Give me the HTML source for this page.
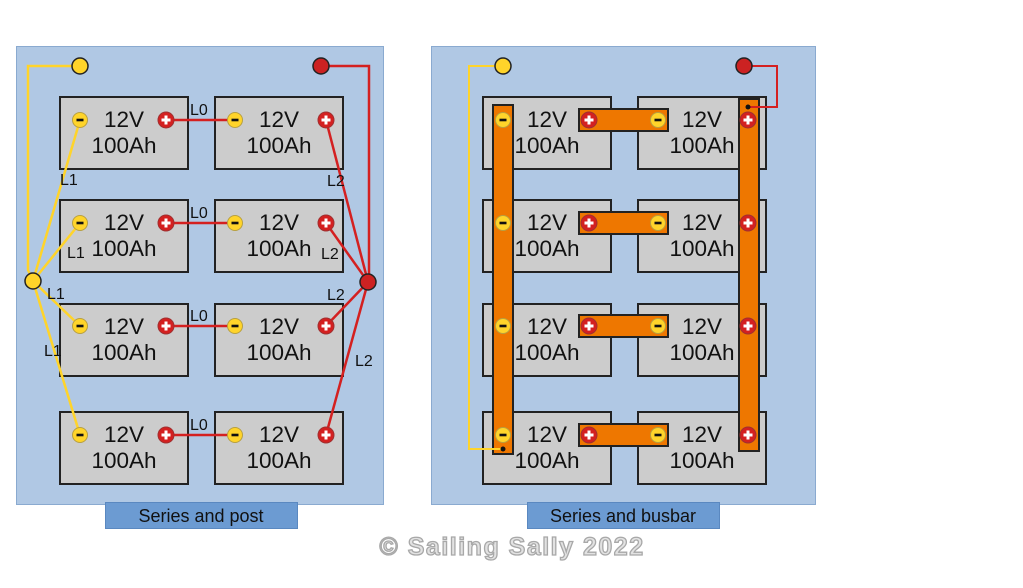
<!DOCTYPE html>
<html><head><meta charset="utf-8"><style>
html,body{margin:0;padding:0;background:#fff;}
svg{display:block;font-family:"Liberation Sans",sans-serif;}
</style></head><body>
<svg width="1023" height="588" viewBox="0 0 1023 588" xmlns="http://www.w3.org/2000/svg">
<defs>
<g id="m"><circle r="7.5" fill="#ffd42a" stroke="#b8a040" stroke-width="1"/><rect x="-3.5" y="-1.3" width="7" height="2.6" fill="#111"/></g>
<g id="p"><circle r="8" fill="#d42020" stroke="#a03030" stroke-width="1"/><rect x="-4.5" y="-1.5" width="9" height="3" fill="#fff"/><rect x="-1.5" y="-4.5" width="3" height="9" fill="#fff"/></g>
<g id="b"><rect x="0" y="0" width="128" height="72" fill="#cccccc" stroke="#222" stroke-width="2"/><text x="64" y="30" font-size="22.5" text-anchor="middle" fill="#111">12V</text><text x="64" y="56" font-size="22.5" text-anchor="middle" fill="#111">100Ah</text></g>
</defs>
<rect x="16.5" y="46.5" width="367" height="458" fill="#b0c8e4" stroke="#8aaad0"/>
<rect x="431.5" y="46.5" width="384" height="458" fill="#b0c8e4" stroke="#8aaad0"/>

<!-- LEFT -->
<use href="#b" x="60" y="97"/><use href="#b" x="215" y="97"/>
<use href="#b" x="60" y="200"/><use href="#b" x="215" y="200"/>
<use href="#b" x="60" y="304"/><use href="#b" x="215" y="304"/>
<use href="#b" x="60" y="412"/><use href="#b" x="215" y="412"/>
<g stroke="#ffd42a" stroke-width="2.5" fill="none">
<polyline points="72,66 28,66 28,270 33,281"/>
<line x1="33" y1="281" x2="80" y2="120"/>
<line x1="33" y1="281" x2="80" y2="223"/>
<line x1="33" y1="281" x2="80" y2="326"/>
<line x1="33" y1="281" x2="80" y2="435"/>
</g>
<g stroke="#d42020" stroke-width="2.5" fill="none">
<polyline points="329,66 369,66 369,282"/>
<line x1="368" y1="282" x2="326" y2="120"/>
<line x1="368" y1="282" x2="326" y2="223"/>
<line x1="368" y1="282" x2="326" y2="326"/>
<line x1="368" y1="282" x2="326" y2="435"/>
<line x1="166" y1="120" x2="235" y2="120"/>
<line x1="166" y1="223" x2="235" y2="223"/>
<line x1="166" y1="326" x2="235" y2="326"/>
<line x1="166" y1="435" x2="235" y2="435"/>
</g>
<circle cx="80" cy="66" r="8" fill="#ffd42a" stroke="#222" stroke-width="1.5"/>
<circle cx="321" cy="66" r="8" fill="#cc2222" stroke="#222" stroke-width="1.5"/>
<circle cx="33" cy="281" r="8" fill="#ffd42a" stroke="#222" stroke-width="1.5"/>
<circle cx="368" cy="282" r="8" fill="#cc2222" stroke="#222" stroke-width="1.5"/>
<g>
<use href="#m" x="80" y="120"/><use href="#p" x="166" y="120"/><use href="#m" x="235" y="120"/><use href="#p" x="326" y="120"/>
<use href="#m" x="80" y="223"/><use href="#p" x="166" y="223"/><use href="#m" x="235" y="223"/><use href="#p" x="326" y="223"/>
<use href="#m" x="80" y="326"/><use href="#p" x="166" y="326"/><use href="#m" x="235" y="326"/><use href="#p" x="326" y="326"/>
<use href="#m" x="80" y="435"/><use href="#p" x="166" y="435"/><use href="#m" x="235" y="435"/><use href="#p" x="326" y="435"/>
</g>
<g font-size="16" fill="#111">
<text x="190" y="115">L0</text><text x="190" y="218">L0</text><text x="190" y="321">L0</text><text x="190" y="430">L0</text>
<text x="60" y="185">L1</text><text x="67" y="258">L1</text><text x="47" y="299">L1</text><text x="44" y="356">L1</text>
<text x="327" y="186">L2</text><text x="321" y="259">L2</text><text x="327" y="300">L2</text><text x="355" y="366">L2</text>
</g>

<!-- RIGHT -->
<use href="#b" x="483" y="97"/><use href="#b" x="638" y="97"/>
<use href="#b" x="483" y="200"/><use href="#b" x="638" y="200"/>
<use href="#b" x="483" y="304"/><use href="#b" x="638" y="304"/>
<use href="#b" x="483" y="412"/><use href="#b" x="638" y="412"/>
<g fill="#ee7700" stroke="#222" stroke-width="2">
<rect x="493" y="105" width="20" height="349"/>
<rect x="739" y="99" width="20" height="352"/>
<rect x="579" y="109" width="89" height="22"/>
<rect x="579" y="212" width="89" height="22"/>
<rect x="579" y="315" width="89" height="22"/>
<rect x="579" y="424" width="89" height="22"/>
</g>
<polyline points="495,66 469,66 469,449 503,449" fill="none" stroke="#ffd42a" stroke-width="2"/>
<polyline points="752,66 777,66 777,107 748,107" fill="none" stroke="#d42020" stroke-width="2"/>
<circle cx="503" cy="449" r="2.5" fill="#111"/>
<circle cx="748" cy="107" r="2.5" fill="#111"/>
<circle cx="503" cy="66" r="8" fill="#ffd42a" stroke="#222" stroke-width="1.5"/>
<circle cx="744" cy="66" r="8" fill="#cc2222" stroke="#222" stroke-width="1.5"/>
<g>
<use href="#m" x="503" y="120"/><use href="#p" x="589" y="120"/><use href="#m" x="658" y="120"/><use href="#p" x="748" y="120"/>
<use href="#m" x="503" y="223"/><use href="#p" x="589" y="223"/><use href="#m" x="658" y="223"/><use href="#p" x="748" y="223"/>
<use href="#m" x="503" y="326"/><use href="#p" x="589" y="326"/><use href="#m" x="658" y="326"/><use href="#p" x="748" y="326"/>
<use href="#m" x="503" y="435"/><use href="#p" x="589" y="435"/><use href="#m" x="658" y="435"/><use href="#p" x="748" y="435"/>
</g>

<!-- captions -->
<rect x="105.5" y="502.5" width="192" height="26" fill="#6c9bd2" stroke="#5a88c0"/>
<text x="201" y="522" font-size="18" text-anchor="middle" fill="#111">Series and post</text>
<rect x="527.5" y="502.5" width="192" height="26" fill="#6c9bd2" stroke="#5a88c0"/>
<text x="623" y="522" font-size="18" text-anchor="middle" fill="#111">Series and busbar</text>
<text x="512" y="555" font-size="25" font-weight="bold" letter-spacing="1.5" text-anchor="middle" fill="#e2e2e2" stroke="#a8a8a8" stroke-width="1.3">© Sailing Sally 2022</text>
</svg>
</body></html>
